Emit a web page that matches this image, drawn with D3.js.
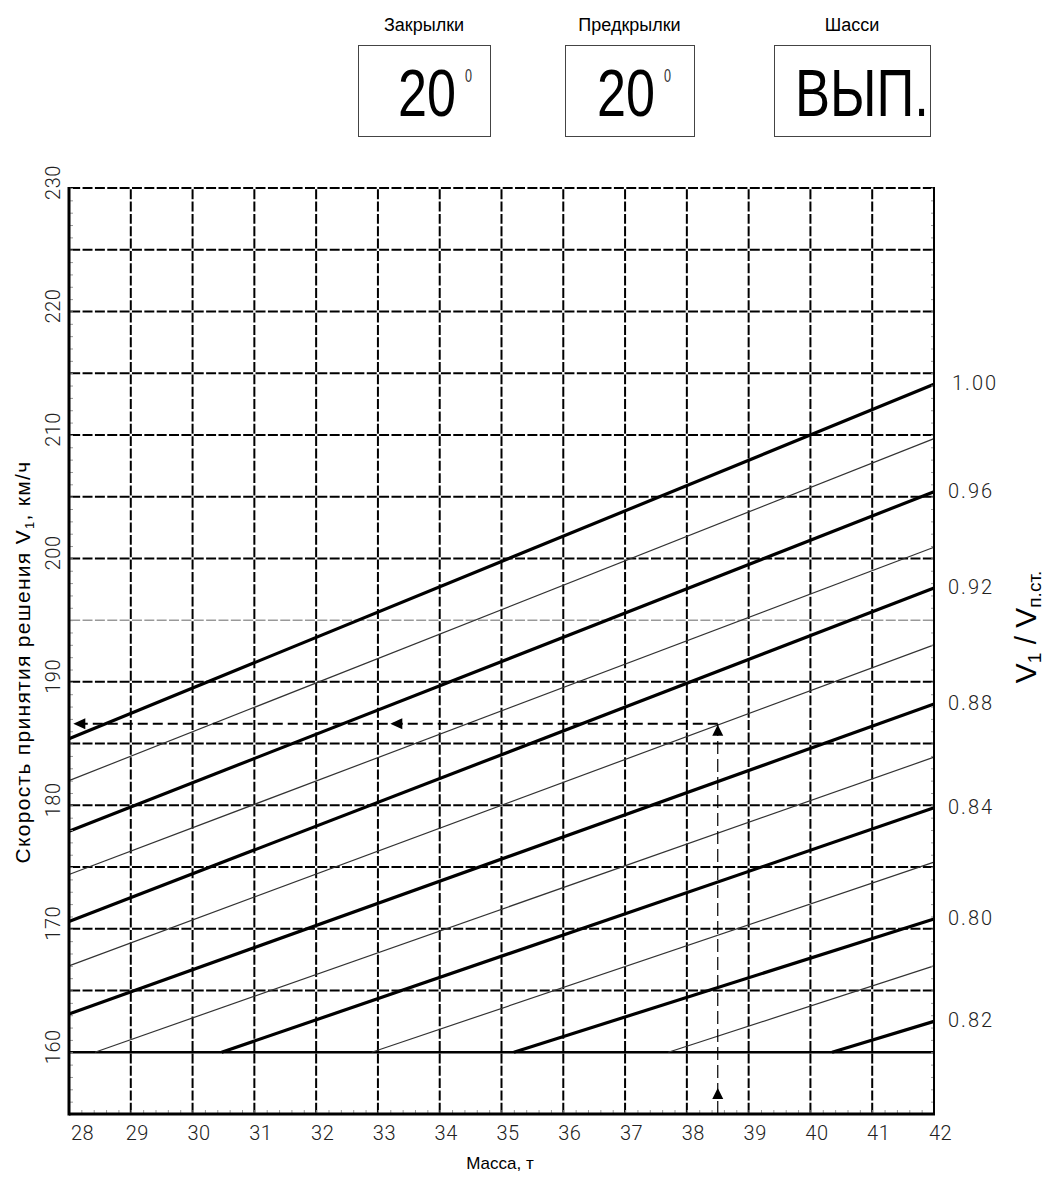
<!DOCTYPE html>
<html>
<head>
<meta charset="utf-8">
<script src="https://cdn.jsdelivr.net/npm/d3@7/dist/d3.min.js"></script>
<style>
	body { margin: 0; background: #fff; }
	svg { display: block; }
	.tick-label { font-family: Roboto, "DejaVu Sans", sans-serif; font-weight: 300; font-size: 20px; fill: #222; letter-spacing: 0.5px; }
	.title { font-family: "Liberation Sans", Arial, sans-serif; fill: #000; }
</style>
</head>
<body>
<svg id="chart" width="1047" height="1182"></svg>
<script>
"use strict";

// chart values
var massTicks = [28, 29, 30, 31, 32, 33, 34, 35, 36, 37, 38, 39, 40, 41, 42];
var speedLabels = [160, 170, 180, 190, 200, 210, 220, 230];
var gridSpeeds = [165, 170, 175, 180, 185, 190, 195, 200, 205, 210, 215, 220, 225, 230];
var floorSpeed = 160;

var lineRatios     = [1.00, 0.98, 0.96, 0.94, 0.92, 0.90, 0.88, 0.86, 0.84, 0.82, 0.80, 0.78, 0.76];
var lineStartMass  = [28, 28, 28, 28, 28, 28, 28, 28.42, 30.47, 32.9, 35.2, 37.7, 40.35];
var lineStartSpeed = [185.4, 182.0, 177.9, 174.4, 170.6, 167.0, 163.1, 160, 160, 160, 160, 160, 160];
var lineEndMass    = 42;
var lineEndSpeed   = [214.1, 209.7, 205.4, 200.9, 197.6, 193.0, 188.2, 183.9, 179.8, 175.4, 170.8, 167.0, 162.5];
var ratioLabels    = ["1.00", "0.96", "0.92", "0.88", "0.84", "0.80", "0.82"];

var panelTitles = ["Закрылки", "Предкрылки", "Шасси"];
var panelValues = ["20", "20", "ВЫП."];
var panelDegree = [true, true, false];

var exampleMass = 38.5;
var exampleSpeed = 186.6;

var Chart = (function(){
	var svg = {},
		x = d3.scaleLinear().domain([28, 42]).range([69, 934]),
		y = d3.scaleLinear().domain([155, 230]).range([1114, 188]);

	function init(el) {
		svg = d3.select("#" + el);
		drawPanels();
		drawGrid();
		drawLines();
		drawAxes();
		drawExample();
		drawTitles();
	}

	function drawPanels() {
		var boxX = [358, 565, 774],
			boxW = [132, 129, 156],
			valW = [58, 58, 134],
			valDx = [40, 32, 21];

		var g = svg.selectAll("g.panel")
			.data(panelTitles)
			.enter()
			.append("g")
			.attr("class", "panel")
			.attr("transform", function(d, i) { return "translate(" + boxX[i] + ",0)"; });

		g.append("text")
			.attr("class", "title")
			.attr("x", function(d, i) { return boxW[i] / 2; })
			.attr("y", 31)
			.attr("text-anchor", "middle")
			.style("font-size", "18px")
			.text(function(d) { return d; });

		g.append("rect")
			.attr("x", 0.5)
			.attr("y", 45.5)
			.attr("width", function(d, i) { return boxW[i]; })
			.attr("height", 91)
			.attr("fill", "none")
			.attr("stroke", "#444")
			.attr("stroke-width", 1);

		// big narrow value text: squeeze to the width seen in the picture
		g.append("text")
			.attr("class", "title")
			.style("font-size", "66px")
			.text(function(d, i) { return panelValues[i]; })
			.each(function(d, i) {
				var k = valW[i] / this.getComputedTextLength();
				d3.select(this).attr("transform", "translate(" + valDx[i] + ",116) scale(" + k + ",1)");
			});

		g.filter(function(d, i) { return panelDegree[i]; })
			.append("text")
			.attr("class", "title")
			.style("font-size", "18px")
			.style("fill", "#333")
			.text("0")
			.each(function(d, i) {
				var k = 7 / this.getComputedTextLength();
				d3.select(this).attr("transform", "translate(" + (valDx[i] + 67) + ",82) scale(" + k + ",1)");
			});
	}

	function dashFor(step) {
		var gap = 2.4;
		return {
			array: (step - gap) + "," + gap,
			offset: step - gap / 2
		};
	}

	function drawGrid() {
		var g = svg.append("g").attr("class", "grid");
		var hd = dashFor(x(28.2) - x(28)),
			vd = dashFor(y(155) - y(156));

		g.selectAll("line.h")
			.data(gridSpeeds)
			.enter()
			.append("line")
			.attr("class", "h")
			.attr("x1", x(28)).attr("x2", x(42))
			.attr("y1", function(d) { return y(d); })
			.attr("y2", function(d) { return y(d); })
			.attr("stroke", function(d) { return d == 195 ? "#999" : "#000"; })
			.attr("stroke-width", function(d) { return d == 195 ? 1.5 : 2; })
			.attr("stroke-dasharray", hd.array)
			.attr("stroke-dashoffset", hd.offset);

		g.selectAll("line.v")
			.data(massTicks.slice(1, -1))
			.enter()
			.append("line")
			.attr("class", "v")
			.attr("x1", function(d) { return x(d); })
			.attr("x2", function(d) { return x(d); })
			.attr("y1", y(155)).attr("y2", y(230))
			.attr("stroke", "#000")
			.attr("stroke-width", 2)
			.attr("stroke-dasharray", vd.array)
			.attr("stroke-dashoffset", vd.offset);

		g.append("line")
			.attr("x1", x(28)).attr("x2", x(42))
			.attr("y1", y(floorSpeed)).attr("y2", y(floorSpeed))
			.attr("stroke", "#000")
			.attr("stroke-width", 2.5);
	}

	function drawLines() {
		var line = d3.line()
			.x(function(p) { return x(p[0]); })
			.y(function(p) { return y(p[1]); });

		svg.append("g")
			.attr("class", "ratios")
			.selectAll("path")
			.data(lineRatios)
			.enter()
			.append("path")
			.attr("d", function(d, i) {
				return line([[lineStartMass[i], lineStartSpeed[i]], [lineEndMass, lineEndSpeed[i]]]);
			})
			.attr("fill", "none")
			.attr("stroke", function(d, i) { return i % 2 ? "#333" : "#000"; })
			.attr("stroke-width", function(d, i) { return i % 2 ? 1.2 : 3.2; });

		var bold = lineEndSpeed.filter(function(d, i) { return i % 2 == 0; });
		svg.append("g")
			.selectAll("text")
			.data(bold)
			.enter()
			.append("text")
			.attr("class", "tick-label")
			.style("letter-spacing", "2px")
			.attr("x", function(d, i) { return x(42) + (i == 0 ? 18 : 14); })
			.attr("y", function(d) { return y(d) + 6; })
			.text(function(d, i) { return ratioLabels[i]; });
	}

	function drawAxes() {
		var minorMass = d3.range(28, 42.001, 0.2),
			minorSpeed = d3.range(155, 230.001, 1);

		svg.append("g")
			.attr("transform", "translate(0," + y(155) + ")")
			.call(d3.axisBottom(x).tickValues(minorMass).tickSize(-4).tickFormat(""))
			.call(styleMinor);

		svg.append("g")
			.attr("transform", "translate(" + x(28) + ",0)")
			.call(d3.axisLeft(y).tickValues(minorSpeed).tickSize(-4).tickFormat(""))
			.call(styleMinor);

		svg.append("g")
			.attr("transform", "translate(" + x(42) + ",0)")
			.call(d3.axisRight(y).tickValues(minorSpeed).tickSize(-3).tickFormat(""))
			.call(styleMinor);

		var bottom = svg.append("g")
			.attr("transform", "translate(0," + y(155) + ")")
			.call(d3.axisBottom(x).tickValues(massTicks).tickSize(0));
		bottom.select(".domain").remove();
		bottom.selectAll("text")
			.attr("class", "tick-label")
			.attr("font-family", null).attr("font-size", null).attr("fill", null)
			.attr("dx", function(d, i) { return i == 0 ? 13 : 6; })
			.attr("y", 26)
			.attr("dy", 0);

		var left = svg.append("g")
			.attr("transform", "translate(" + x(28) + ",0)")
			.call(d3.axisLeft(y).tickValues(speedLabels).tickSize(0));
		left.select(".domain").remove();
		left.selectAll("text")
			.attr("class", "tick-label")
			.attr("font-family", null).attr("font-size", null).attr("fill", null)
			.attr("transform", "rotate(-90)")
			.attr("text-anchor", "middle")
			.attr("x", 6)
			.attr("y", -9)
			.attr("dy", 0);

		// frame
		svg.append("line")
			.attr("x1", x(28)).attr("x2", x(28))
			.attr("y1", y(230) - 1).attr("y2", y(155) + 1.5)
			.attr("stroke", "#000").attr("stroke-width", 3);
		svg.append("line")
			.attr("x1", x(28)).attr("x2", x(42) + 1)
			.attr("y1", y(155)).attr("y2", y(155))
			.attr("stroke", "#000").attr("stroke-width", 3);
		svg.append("line")
			.attr("x1", x(42)).attr("x2", x(42))
			.attr("y1", y(230) - 1).attr("y2", y(155))
			.attr("stroke", "#000").attr("stroke-width", 2);
	}

	function styleMinor(g) {
		g.select(".domain").remove();
		g.selectAll("line").attr("stroke", "#999").attr("stroke-width", 1);
	}

	function arrow(px, py, dir) {
		var p = dir == "up"
			? [[px, py], [px - 5.5, py + 11], [px + 5.5, py + 11]]
			: [[px, py], [px + 12, py - 5.5], [px + 12, py + 5.5]];
		svg.append("path")
			.attr("d", "M" + p.join("L") + "Z")
			.attr("fill", "#000");
	}

	function drawExample() {
		var ex = x(exampleMass),
			ey = y(exampleSpeed);

		svg.append("line")
			.attr("x1", ex).attr("x2", ex)
			.attr("y1", y(155)).attr("y2", ey)
			.attr("stroke", "#000").attr("stroke-width", 1.2)
			.attr("stroke-dasharray", "13,5");

		svg.append("line")
			.attr("x1", ex).attr("x2", x(28) + 4)
			.attr("y1", ey).attr("y2", ey)
			.attr("stroke", "#000").attr("stroke-width", 2)
			.attr("stroke-dasharray", "10,5");

		arrow(ex, y(157.1), "up");
		arrow(ex, ey + 1, "up");
		arrow(x(33.2), ey, "left");
		arrow(x(28.07), ey, "left");
	}

	function drawTitles() {
		var t = svg.append("text")
			.attr("class", "title")
			.attr("transform", "translate(30,662) rotate(-90)")
			.attr("text-anchor", "middle")
			.style("font-size", "21px")
			.style("letter-spacing", "1.3px")
			.text("Скорость принятия решения V");
		t.append("tspan").attr("dy", 4).style("font-size", "13px").text("1");
		t.append("tspan").attr("dy", -4).text(", км/ч");

		var r = svg.append("text")
			.attr("class", "title")
			.attr("transform", "translate(1036,627) rotate(-90)")
			.attr("text-anchor", "middle")
			.style("font-size", "30px")
			.text("V");
		r.append("tspan").attr("dy", 5).style("font-size", "19px").text("1");
		r.append("tspan").attr("dy", -5).text(" / V");
		r.append("tspan").attr("dy", 5).style("font-size", "19px").text("п.ст.");

		svg.append("text")
			.attr("class", "title")
			.attr("x", 500)
			.attr("y", 1169)
			.attr("text-anchor", "middle")
			.style("font-size", "17px")
			.text("Масса, т");
	}

	return {
		"init": init
	};
}());

Chart.init("chart");
</script>
</body>
</html>
